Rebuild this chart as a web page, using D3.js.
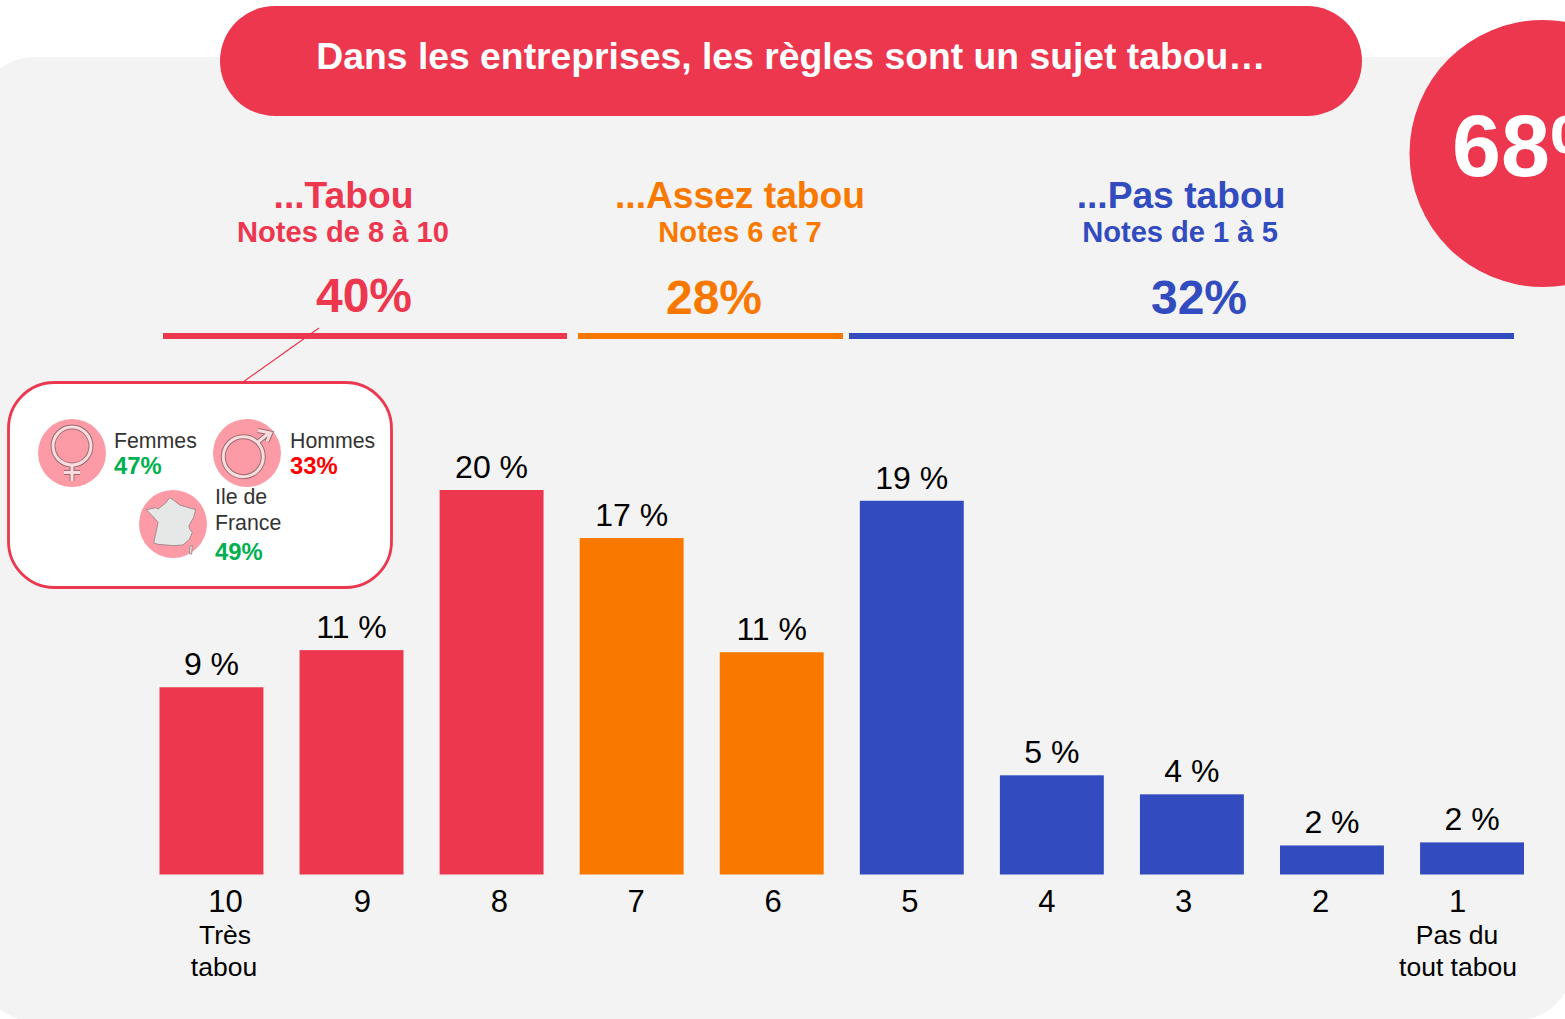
<!DOCTYPE html>
<html lang="fr"><head><meta charset="utf-8">
<script src="https://cdnjs.cloudflare.com/ajax/libs/d3/7.9.0/d3.min.js"></script>
<style>html,body{margin:0;padding:0;background:#fff;overflow:hidden}svg{display:block}text{font-family:"Liberation Sans",Arial,sans-serif}</style>
</head><body><svg id="c" width="1565" height="1019"></svg>
<script>
const notes = ["10","9","8","7","6","5","4","3","2","1"];
const values = [9.74,11.67,20,17.5,11.56,19.44,5.16,4.17,1.51,1.67];
const valueLabels = ["9 %","11 %","20 %","17 %","11 %","19 %","5 %","4 %","2 %","2 %"];
const groups = ["t","t","t","a","a","p","p","p","p","p"];
const groupKeys = ["t","a","p"];
const groupColors = ["#EC374F","#F87800","#324BBF"];
const groupTitles = ["...Tabou","...Assez tabou","...Pas tabou"];
const groupNotes = ["Notes de 8 à 10","Notes 6 et 7","Notes de 1 à 5"];
const groupPcts = ["40%","28%","32%"];
const title = "Dans les entreprises, les règles sont un sujet tabou…";
const RED = "#EC374F", PINK = "#FC9BA6";

const svg = d3.select("#c");
const color = d3.scaleOrdinal(groupKeys, groupColors);
const x = d3.scaleBand(notes, [159.5,1524]).paddingInner(0.258).paddingOuter(0);
const y = d3.scaleLinear([0,20],[874.5,490]);
const tickX = d3.scalePoint(notes, [225,1457]);

// panel
svg.append("rect").attr("x",-25).attr("y",57).attr("width",1599).attr("height",964).attr("rx",60).attr("fill","#F3F3F3");
// pill
svg.append("rect").attr("x",220).attr("y",6).attr("width",1142).attr("height",110).attr("rx",55).attr("fill",RED);
svg.append("text").attr("x",791).attr("y",69).attr("text-anchor","middle").attr("fill","#fff")
  .attr("font-size",37.3).attr("font-weight",700).text(title);
// big circle
svg.append("circle").attr("cx",1543).attr("cy",153.5).attr("r",133.5).attr("fill",RED);
svg.append("text").attr("x",1452).attr("y",176).attr("fill","#fff").attr("font-size",88).attr("font-weight",700).text("68%");

// group headers
const titleX=[343.5,740,1181], noteX=[343,740,1180], pctX=[364,714,1199], pctY=[312,314,314];
const ruleX=[[163,567],[578,843],[849,1514]];
groupKeys.forEach((k,i)=>{
  const g = svg.append("g").attr("fill",groupColors[i]).attr("text-anchor","middle").attr("font-weight",700);
  g.append("text").attr("x",titleX[i]).attr("y",208).attr("font-size",37.2).text(groupTitles[i]);
  g.append("text").attr("x",noteX[i]).attr("y",242).attr("font-size",29.1).text(groupNotes[i]);
  g.append("text").attr("x",pctX[i]).attr("y",pctY[i]).attr("font-size",48).text(groupPcts[i]);
  g.append("rect").attr("x",ruleX[i][0]).attr("y",333).attr("width",ruleX[i][1]-ruleX[i][0]).attr("height",6);
});

// bars
svg.append("g").selectAll("rect").data(notes).join("rect")
  .attr("x",d=>x(d)).attr("width",x.bandwidth())
  .attr("y",(d,i)=>y(values[i])).attr("height",(d,i)=>y(0)-y(values[i]))
  .attr("fill",(d,i)=>color(groups[i]));
svg.append("g").selectAll("text").data(notes).join("text")
  .attr("x",d=>x(d)+x.bandwidth()/2).attr("y",(d,i)=>y(values[i])-12)
  .attr("text-anchor","middle").attr("font-size",32).attr("fill","#000")
  .text((d,i)=>valueLabels[i]);

// axis
const axis = svg.append("g").attr("transform","translate(0,880)")
  .call(d3.axisBottom(tickX).tickSize(0).tickPadding(0));
axis.select(".domain").remove();
axis.attr("font-family",null);
axis.selectAll("text").attr("font-size",31).attr("fill","#000").attr("dy",null).attr("y",32);
const cap = svg.append("g").attr("font-size",26.5).attr("fill","#000").attr("text-anchor","middle");
cap.append("text").attr("x",225).attr("y",944).text("Très");
cap.append("text").attr("x",224).attr("y",976).text("tabou");
cap.append("text").attr("x",1457).attr("y",944).text("Pas du");
cap.append("text").attr("x",1458).attr("y",976).text("tout tabou");

// callout
svg.append("line").attr("x1",319).attr("y1",328).attr("x2",243).attr("y2",382).attr("stroke",RED).attr("stroke-width",1.2);
svg.append("rect").attr("x",8.5).attr("y",382.5).attr("width",383).attr("height",205).attr("rx",46).attr("fill","#fff").attr("stroke",RED).attr("stroke-width",2.8);

const glyphStrokes=[["#9C6C72",5],["#F8DCDE",3]];
function badge(cx,cy){ return svg.append("g").attr("transform",`translate(${cx},${cy})`).call(g=>g.append("circle").attr("r",34).attr("fill",PINK)); }
// venus
const v = badge(72,453);
glyphStrokes.forEach(([s,w])=>{
  const gg=v.append("g").attr("fill","none").attr("stroke",s).attr("stroke-width",w);
  gg.append("circle").attr("cy",-7).attr("r",19);
  gg.append("path").attr("d","M0,12V28M-8,19.5H8");
});
// mars
const m = badge(247,453);
glyphStrokes.forEach(([s,w])=>{
  const gg=m.append("g").attr("fill","none").attr("stroke",s).attr("stroke-width",w);
  gg.append("circle").attr("cx",-3.7).attr("cy",3.7).attr("r",20);
  gg.append("path").attr("d","M11,-11L22,-20M11,-22.5L23.7,-20L20,-11.5");
});
// France
const fr = badge(173,524);
const francePts=[[50,72],[78,66],[85,70],[108,52],[120,36],[130,42],[150,58],[198,72],[192,95],[178,120],[180,130],[188,140],[180,160],[160,178],[130,180],[85,176],[72,172],[80,135],[85,110],[72,95]];
const corsePts=[[180,182],[188,180],[186,205],[180,205]];
const frG = fr.append("g").attr("transform","scale(0.3333) translate(-130,-115)").attr("fill","#E6E8E7").attr("stroke","#A58A8E").attr("stroke-width",3);
frG.append("path").attr("d",d3.line()(francePts)+"Z");
frG.append("path").attr("d",d3.line()(corsePts)+"Z");

const lab = svg.append("g").attr("font-size",21.3).attr("fill","#333");
lab.append("text").attr("x",114).attr("y",448).text("Femmes");
lab.append("text").attr("x",290).attr("y",448).text("Hommes");
lab.append("text").attr("x",215).attr("y",504).text("Ile de");
lab.append("text").attr("x",215).attr("y",530).text("France");
const pct = svg.append("g").attr("font-size",23.8).attr("font-weight",700);
pct.append("text").attr("x",114).attr("y",474).attr("fill","#00B050").text("47%");
pct.append("text").attr("x",290).attr("y",474).attr("fill","#FF0000").text("33%");
pct.append("text").attr("x",215).attr("y",560).attr("fill","#00B050").text("49%");
</script></body></html>
